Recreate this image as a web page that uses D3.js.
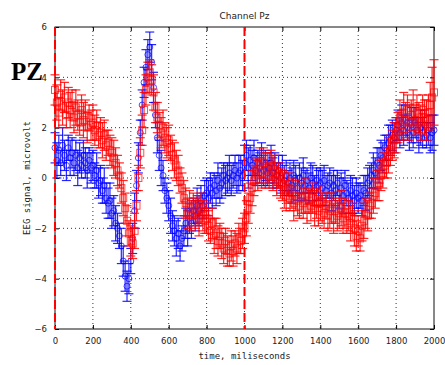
<!DOCTYPE html>
<html>
<head>
<meta charset="utf-8">
<script src="https://cdn.jsdelivr.net/npm/d3@7"></script>
<style>
  body { margin: 0; background: #fff; }
  svg { display: block; }
</style>
</head>
<body>
<svg id="chart" width="445" height="365"></svg>
<script>
// time axis: one sample every 10 ms
const times = d3.range(0, 2001, 10)

const blueValues = [
  1.2, 0.7, 1.1, 0.6, 1.3, 0.9, 0.5, 1.2, 0.8,
  1.0, 0.6, 0.9, 0.4, 0.8, 0.5, 0.9, 0.6, 0.3, 0.7, 0.4, 0.5,
  0.1, 0.3, -0.2, -0.1, -0.5, -0.3, -0.8, -1.0,
  -0.9, -1.4, -1.3, -1.8, -2.0, -2.3,
  -2.7, -3.3, -3.9, -4.3, -4.0,
  -3.3, -2.4, -1.3, -0.3, 0.8,
  1.8, 2.9, 3.8, 4.4, 4.9, 5.2,
  4.6, 3.6, 2.5, 1.6, 0.9, 0.4, 0.1, -0.5, -0.8, -1.1, -1.5, -1.9,
  -2.1, -2.4, -2.2, -2.7, -2.4, -2.1,
  -1.8, -2.0, -1.6, -1.8, -1.3, -1.5, -1.1, -1.3, -0.9, -1.1, -0.7, -0.6,
  -0.8, -0.4, -0.6, -0.3, -0.5, -0.1, -0.4, -0.2, 0.1, -0.1, 0.0, 0.2, -0.1, 0.1, 0.3, 0.0, 0.2, 0.3, 0.1,
  0.6, 0.9, 0.4, 0.7, 0.5, 0.8, 0.3, 0.6, 0.4, 0.7, 0.3, 0.5, 0.2, 0.4, 0.6, 0.2, 0.4, 0.1, 0.3, 0.0, 0.2,
  -0.1, 0.1, -0.2, 0.0, -0.3, 0.1, -0.1, -0.4, 0.0, -0.2, 0.1, -0.3, -0.1, -0.4, 0.0, -0.2, -0.5, -0.1, -0.3, -0.2,
  -0.4, -0.1, -0.5, -0.3, -0.2, -0.6, -0.3, -0.5, -0.2, -0.6, -0.4, -0.7, -0.3, -0.6, -0.8, -0.5, -0.7, -0.9, -0.6, -0.8,
  -0.7, -0.9, -0.5, -0.6, -0.2, -0.1,
  0.1, 0.3, 0.2, 0.6, 0.5, 0.9, 0.8, 1.2, 1.1, 1.4, 1.5, 1.7, 1.6, 1.9,
  2.1, 1.8, 2.2, 1.9, 2.3, 2.0, 1.7, 2.1, 1.8, 2.2, 1.9, 1.6, 2.0, 1.8, 2.1, 1.7, 1.9, 1.6, 1.8, 1.9
]

const redValues = [
  3.5, 3.0, 2.6, 3.3, 2.8, 3.2, 2.5, 3.0, 2.7,
  2.9, 2.4, 2.8, 2.5, 2.2, 2.7, 2.3, 2.5, 2.0, 2.4, 2.1, 2.2,
  1.9, 2.1, 1.7, 1.8, 1.5, 1.7, 1.3, 1.4, 1.1, 1.0, 0.8, 0.6,
  0.3, 0.1, -0.4, -0.8, -1.2, -1.7, -2.2, -2.5,
  -2.6, -2.1, -1.1, 0.0,
  1.0, 1.9, 2.7, 3.5, 4.0, 4.2,
  3.9, 3.4, 2.8, 2.4, 2.1, 1.8, 2.0, 1.6, 1.4, 1.5, 1.2, 0.9,
  0.7, 0.5, 0.3, -0.1, -0.4, -0.8,
  -1.0, -1.4, -1.2, -1.5, -1.1, -1.4, -1.3, -1.6, -1.2, -1.5, -1.7, -1.6,
  -1.9, -2.1, -1.8, -2.3, -2.2, -2.5, -2.3, -2.6, -2.8, -2.5, -2.9, -3.0, -2.7, -2.9, -2.6, -2.8, -2.4, -2.5, -2.2,
  -2.0, -1.6, -1.2, -0.8, -0.4,
  -0.1, 0.3, 0.1, 0.5, 0.2, 0.6, 0.3, 0.4, 0.1, 0.5, 0.2, 0.3, -0.1, 0.1, -0.2, -0.3,
  -0.5, -0.7, -0.4, -0.8, -0.6, -1.0, -0.7, -0.9, -1.1, -0.8, -1.0, -0.7, -1.2, -0.9, -1.1, -0.8, -1.2, -1.0, -1.3, -1.0,
  -1.2, -1.4, -1.1, -1.5, -1.3, -1.2, -1.6, -1.3, -1.5, -1.4, -1.2, -1.6, -1.4, -1.7, -1.5, -1.8, -1.6, -2.0, -2.3, -2.1,
  -2.4, -1.9, -1.7, -1.4, -1.5, -1.1, -1.0, -0.7, -0.6, -0.3, -0.2, 0.1, 0.2, 0.5, 0.6, 0.9, 1.1, 1.3, 1.5, 1.7,
  2.0, 2.4, 2.1, 2.6, 2.3, 2.7, 2.2, 2.5, 2.8, 2.3, 2.6, 2.4, 2.2, 2.7, 2.4, 2.3, 2.6, 2.9, 3.2, 3.4
]

const blueErrors = [
  0.6, 0.7, 0.6, 0.5, 0.7, 0.6, 0.6, 0.5, 0.7, 0.6,
  0.5, 0.6, 0.7, 0.6, 0.5, 0.6, 0.6, 0.7, 0.5, 0.6,
  0.6, 0.5, 0.7, 0.6, 0.6, 0.5, 0.7, 0.6, 0.6, 0.7,
  0.6, 0.6, 0.7, 0.6, 0.5, 0.7, 0.6, 0.6, 0.6, 0.6,
  0.5, 0.6, 0.7, 0.6, 0.6, 0.5, 0.6, 0.6, 0.7, 0.6,
  0.6, 0.7, 0.6, 0.5, 0.6, 0.6, 0.7, 0.6, 0.5, 0.6,
  0.6, 0.7, 0.6, 0.6, 0.7, 0.6, 0.6, 0.5, 0.6, 0.6,
  0.7, 0.6, 0.6, 0.5, 0.6, 0.7, 0.6, 0.6, 0.5, 0.6,
  0.6, 0.7, 0.6, 0.6, 0.5, 0.6, 0.7, 0.6, 0.6, 0.5,
  0.6, 0.6, 0.7, 0.6, 0.5, 0.6, 0.6, 0.7, 0.6, 0.6,
  0.7, 0.6, 0.8, 0.6, 0.6, 0.7, 0.6, 0.5, 0.6, 0.7,
  0.6, 0.6, 0.5, 0.6, 0.7, 0.6, 0.6, 0.5, 0.6, 0.6,
  0.7, 0.6, 0.6, 0.5, 0.6, 0.7, 0.6, 0.6, 0.5, 0.6,
  0.6, 0.7, 0.6, 0.5, 0.6, 0.6, 0.7, 0.6, 0.5, 0.6,
  0.6, 0.7, 0.6, 0.6, 0.5, 0.6, 0.7, 0.6, 0.6, 0.5,
  0.6, 0.6, 0.7, 0.6, 0.5, 0.6, 0.6, 0.7, 0.6, 0.6,
  0.6, 0.5, 0.6, 0.6, 0.7, 0.6, 0.6, 0.5, 0.7, 0.6,
  0.6, 0.7, 0.6, 0.6, 0.5, 0.6, 0.7, 0.6, 0.6, 0.6,
  0.5, 0.6, 0.6, 0.7, 0.6, 0.6, 0.5, 0.6, 0.7, 0.6,
  0.6, 0.5, 0.6, 0.7, 0.6, 0.6, 0.5, 0.6, 0.6, 0.7,
  0.6
]

const redErrors = [
  0.6, 0.7, 0.6, 0.6, 0.7, 0.6, 0.5, 0.6, 0.7, 0.6,
  0.6, 0.7, 0.6, 0.5, 0.6, 0.7, 0.6, 0.6, 0.5, 0.6,
  0.7, 0.6, 0.6, 0.5, 0.6, 0.7, 0.6, 0.6, 0.5, 0.6,
  0.6, 0.7, 0.6, 0.6, 0.5, 0.6, 0.7, 0.6, 0.6, 0.5,
  0.6, 0.6, 0.7, 0.6, 0.5, 0.6, 0.6, 0.7, 0.6, 0.6,
  0.5, 0.6, 0.7, 0.6, 0.6, 0.5, 0.6, 0.7, 0.6, 0.6,
  0.6, 0.5, 0.6, 0.7, 0.6, 0.6, 0.5, 0.6, 0.7, 0.6,
  0.6, 0.7, 0.6, 0.5, 0.6, 0.6, 0.7, 0.6, 0.6, 0.5,
  0.6, 0.6, 0.5, 0.6, 0.7, 0.6, 0.6, 0.5, 0.6, 0.6,
  0.5, 0.6, 0.5, 0.6, 0.6, 0.5, 0.6, 0.6, 0.5, 0.6,
  0.6, 0.7, 0.6, 0.6, 0.7, 0.6, 0.5, 0.6, 0.7, 0.6,
  0.6, 0.7, 0.6, 0.5, 0.6, 0.7, 0.6, 0.6, 0.5, 0.6,
  0.6, 0.7, 0.6, 0.6, 0.5, 0.6, 0.7, 0.6, 0.6, 0.5,
  0.6, 0.6, 0.7, 0.6, 0.5, 0.6, 0.6, 0.7, 0.6, 0.6,
  0.7, 0.6, 0.6, 0.5, 0.6, 0.7, 0.6, 0.6, 0.5, 0.6,
  0.6, 0.7, 0.6, 0.6, 0.5, 0.6, 0.7, 0.6, 0.7, 0.6,
  0.6, 0.5, 0.6, 0.7, 0.6, 0.6, 0.5, 0.6, 0.7, 0.6,
  0.6, 0.7, 0.6, 0.6, 0.5, 0.6, 0.7, 0.6, 0.6, 0.7,
  0.7, 0.6, 0.7, 0.6, 0.8, 0.7, 0.6, 0.7, 0.6, 0.7,
  0.6, 0.7, 0.6, 0.7, 0.6, 0.7, 0.8, 0.7, 0.9, 1.2,
  1.3
]

const xTicks = [0, 200, 400, 600, 800, 1000, 1200, 1400, 1600, 1800, 2000]
const yTicks = [-6, -4, -2, 0, 2, 4, 6]
const markerTimes = [0, 1000]

const svg = d3.select('#chart')
const margin = { top: 27, right: 11, bottom: 36, left: 55 }
const width = 445 - margin.left - margin.right
const height = 365 - margin.top - margin.bottom

const x = d3.scaleLinear().domain([0, 2000]).range([0, width])
const y = d3.scaleLinear().domain([-6, 6]).range([height, 0])

const g = svg.append('g').attr('transform', `translate(${margin.left},${margin.top})`)

// dotted grid
g.append('g')
  .selectAll('line')
  .data(xTicks.slice(1, -1))
  .join('line')
  .attr('x1', d => x(d)).attr('x2', d => x(d))
  .attr('y1', 0).attr('y2', height)
  .attr('stroke', '#333')
  .attr('stroke-width', 1)
  .attr('stroke-dasharray', '1,3')
g.append('g')
  .selectAll('line')
  .data(yTicks.slice(1, -1))
  .join('line')
  .attr('x1', 0).attr('x2', width)
  .attr('y1', d => y(d)).attr('y2', d => y(d))
  .attr('stroke', '#333')
  .attr('stroke-width', 1)
  .attr('stroke-dasharray', '1,3')

// axes with inward ticks
const tickFont = g => g.selectAll('text')
  .attr('font-family', 'DejaVu Sans, sans-serif')
  .attr('font-size', 8.5)
  .attr('fill', '#222')

g.append('g')
  .attr('transform', `translate(0,${height})`)
  .call(d3.axisBottom(x).tickValues(xTicks).tickFormat(d3.format('d'))
    .tickSizeInner(-4).tickSizeOuter(0).tickPadding(9))
  .call(tickFont)
  .call(a => a.select('.domain').remove())
g.append('g')
  .call(d3.axisLeft(y).tickValues(yTicks).tickFormat(d3.format('d'))
    .tickSizeInner(-4).tickSizeOuter(0).tickPadding(8))
  .call(tickFont)
  .call(a => a.select('.domain').remove())
g.append('g')
  .attr('transform', `translate(${width},0)`)
  .call(d3.axisRight(y).tickValues(yTicks).tickSizeInner(-4).tickSizeOuter(0).tickFormat(''))
  .call(a => a.select('.domain').remove())
g.append('g')
  .call(d3.axisTop(x).tickValues(xTicks).tickSizeInner(-4).tickSizeOuter(0).tickFormat(''))
  .call(a => a.select('.domain').remove())

g.append('rect')
  .attr('width', width).attr('height', height)
  .attr('fill', 'none')
  .attr('stroke', '#111')
  .attr('stroke-width', 1)

// series with error bars
const drawSeries = (values, errors, color, shape) => {
  const data = times.map((t, i) => ({ t, v: values[i], e: errors[i] }))
  const s = g.append('g')
  const bars = s.append('g')
    .attr('stroke', color)
    .attr('stroke-width', 1.2)
    .attr('stroke-opacity', 0.85)
  bars.selectAll('line.v')
    .data(data)
    .join('line')
    .attr('class', 'v')
    .attr('x1', d => x(d.t)).attr('x2', d => x(d.t))
    .attr('y1', d => y(d.v - d.e)).attr('y2', d => y(d.v + d.e))
  bars.selectAll('line.top')
    .data(data)
    .join('line')
    .attr('class', 'top')
    .attr('x1', d => x(d.t) - 4.5).attr('x2', d => x(d.t) + 4.5)
    .attr('y1', d => y(d.v + d.e)).attr('y2', d => y(d.v + d.e))
  bars.selectAll('line.bot')
    .data(data)
    .join('line')
    .attr('class', 'bot')
    .attr('x1', d => x(d.t) - 4.5).attr('x2', d => x(d.t) + 4.5)
    .attr('y1', d => y(d.v - d.e)).attr('y2', d => y(d.v - d.e))

  const marks = s.append('g')
    .attr('fill', 'none')
    .attr('stroke', color)
    .attr('stroke-width', 1)
    .attr('stroke-opacity', 0.7)
  if (shape === 'square') {
    marks.selectAll('rect')
      .data(data)
      .join('rect')
      .attr('x', d => x(d.t) - 3.5).attr('y', d => y(d.v) - 3.5)
      .attr('width', 7).attr('height', 7)
  } else {
    marks.selectAll('circle')
      .data(data)
      .join('circle')
      .attr('cx', d => x(d.t)).attr('cy', d => y(d.v))
      .attr('r', 3)
  }
}

drawSeries(blueValues, blueErrors, '#0000ff', 'circle')
drawSeries(redValues, redErrors, '#ff0000', 'square')

// stimulus markers
g.selectAll('line.marker')
  .data(markerTimes)
  .join('line')
  .attr('class', 'marker')
  .attr('x1', d => x(d)).attr('x2', d => x(d))
  .attr('y1', 0).attr('y2', height)
  .attr('stroke', '#ff0000')
  .attr('stroke-width', 2)
  .attr('stroke-dasharray', '9,4')

// labels
svg.append('text')
  .attr('x', margin.left + width / 2).attr('y', 19)
  .attr('text-anchor', 'middle')
  .attr('font-family', 'DejaVu Sans, sans-serif')
  .attr('font-size', 9)
  .attr('fill', '#222')
  .text('Channel Pz')

svg.append('text')
  .attr('x', margin.left + width / 2).attr('y', 359)
  .attr('text-anchor', 'middle')
  .attr('font-family', 'DejaVu Sans Mono, monospace')
  .attr('font-size', 9)
  .attr('fill', '#222')
  .text('time, miliseconds')

svg.append('text')
  .attr('transform', `translate(30,${margin.top + height / 2}) rotate(-90)`)
  .attr('text-anchor', 'middle')
  .attr('font-family', 'DejaVu Sans Mono, monospace')
  .attr('font-size', 9)
  .attr('fill', '#222')
  .text('EEG signal, microvolt')

svg.append('text')
  .attr('x', 11).attr('y', 80)
  .attr('font-family', 'Liberation Serif, Times New Roman, serif')
  .attr('font-weight', 'bold')
  .attr('font-size', 25)
  .attr('fill', '#000')
  .text('PZ')
</script>
</body>
</html>
